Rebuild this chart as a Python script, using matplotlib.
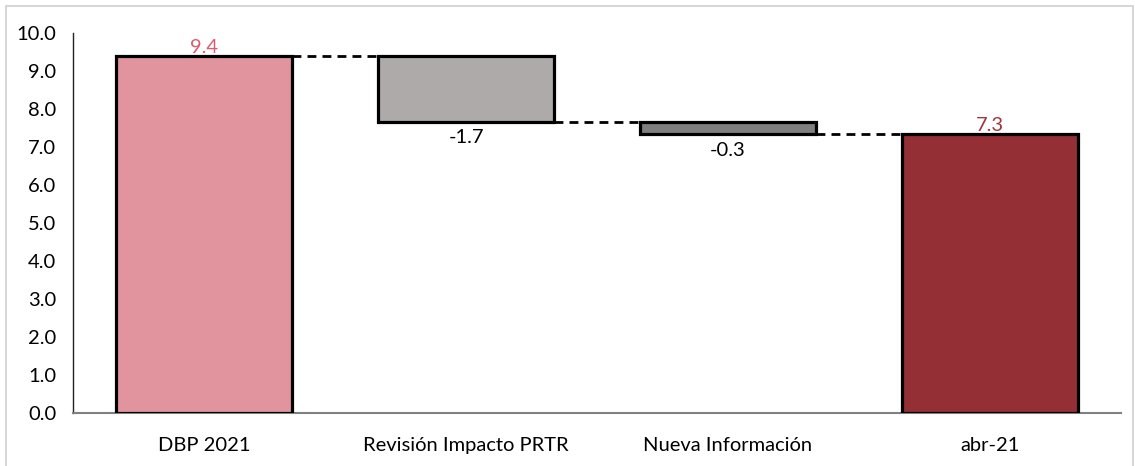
import matplotlib
matplotlib.use("Agg")
import matplotlib.pyplot as plt
from matplotlib.patches import Rectangle

categories = ["DBP 2021", "Revisión Impacto PRTR", "Nueva Información", "abr-21"]
start_value = 9.4
changes = [-1.73, -0.34]
final_value = round(start_value + sum(changes), 2)
ytick_values = [0, 1, 2, 3, 4, 5, 6, 7, 8, 9, 10]

fill_colors = ["#E2949E", "#ADAAA9", "#7F7F7F", "#943035"]
label_colors = ["#D95C70", "#000000", "#000000", "#A0353A"]

plt.rcParams['font.family'] = ['Lato', 'DejaVu Sans']
FS = 14.5

fig = plt.figure(figsize=(11.35, 4.66), dpi=100)
ax = fig.add_axes([73/1135, 1-413/466, (1121-73)/1135, (413-33)/466])

bottoms = [0]
heights = [start_value]
level = start_value
levels = [start_value]
for c in changes:
    bottoms.append(level + c if c < 0 else level)
    heights.append(abs(c))
    level += c
    levels.append(level)
bottoms.append(0)
heights.append(final_value)

x = list(range(len(categories)))
w = 0.67
ax.bar(x, heights, bottom=bottoms, width=w, color=fill_colors,
       edgecolor="black", linewidth=2.3, zorder=3)

for i, lvl in enumerate(levels):
    ax.plot([x[i] + w/2, x[i+1] - w/2], [lvl, lvl], color="black",
            linewidth=2.0, linestyle=(0, (3.2, 2.2)), zorder=2)

ax.text(x[0], start_value + 0.0, f"{start_value:.1f}", ha="center", va="bottom",
        color=label_colors[0], fontsize=FS)
for i, c in enumerate(changes):
    ax.text(x[i+1], levels[i+1] - 0.2, f"{c:.1f}", ha="center", va="top",
            color=label_colors[i+1], fontsize=FS)
ax.text(x[3], final_value + 0.0, f"{final_value:.1f}", ha="center", va="bottom",
        color=label_colors[3], fontsize=FS)

ax.set_xlim(-0.5, 3.5)
ax.set_ylim(0, 10)
ax.set_yticks(ytick_values)
ax.set_yticklabels([f"{v:.1f}" for v in ytick_values], fontsize=FS)
ax.set_xticks(x)
ax.set_xticklabels(categories, fontsize=FS)
ax.tick_params(axis="both", length=0)
ax.tick_params(axis="y", pad=12)
ax.tick_params(axis="x", pad=17)
for s in ["top", "right"]:
    ax.spines[s].set_visible(False)
ax.spines["left"].set_color("#222222")
ax.spines["left"].set_linewidth(1.0)
ax.spines["bottom"].set_color("#808080")
ax.spines["bottom"].set_linewidth(1.5)

fig.patches.append(Rectangle((6/1135, -0.05), (1133-6)/1135, 1.05 - 6/466,
                             transform=fig.transFigure, fill=False,
                             edgecolor="#D0D0D0", linewidth=1.2))

fig.savefig("out.png", dpi=100)
